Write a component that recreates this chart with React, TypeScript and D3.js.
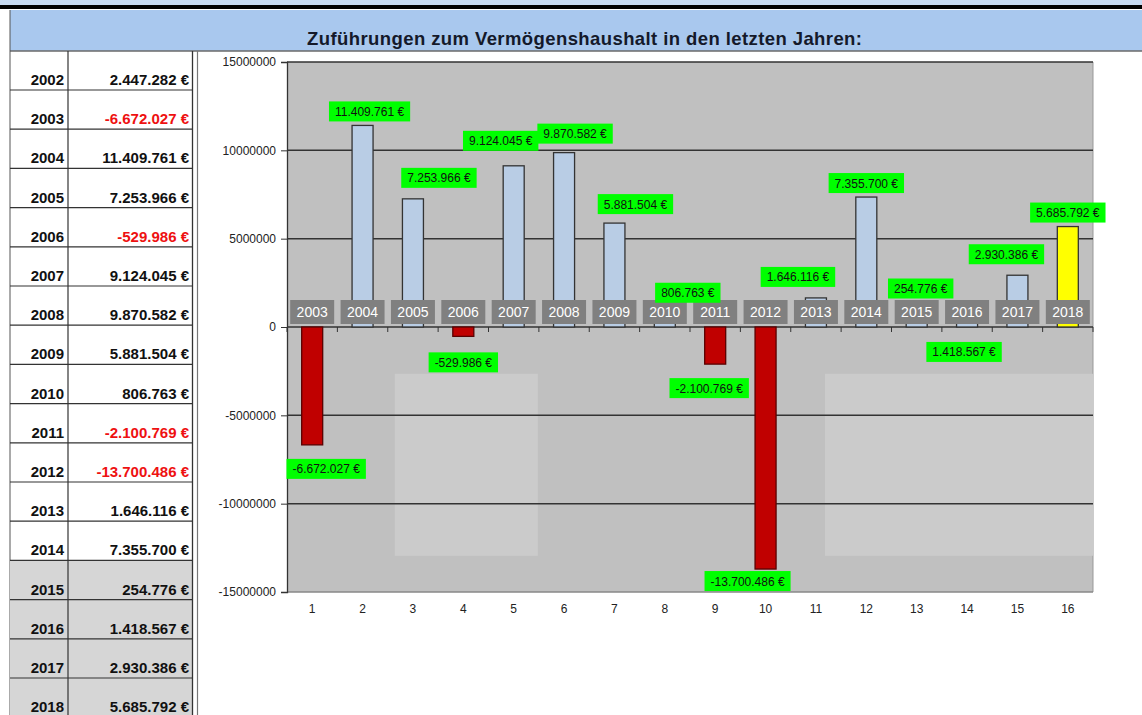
import React, { useEffect, useRef } from "react";
import * as d3 from "d3";

const FONT = "'Liberation Sans', Arial, sans-serif";

const title = "Zuführungen zum Vermögenshaushalt in den letzten Jahren:";

// table on the left (2002..2018)
const tableYears = ["2002", "2003", "2004", "2005", "2006", "2007", "2008", "2009", "2010", "2011", "2012", "2013", "2014", "2015", "2016", "2017", "2018"];
const tableAmounts = [2447282, -6672027, 11409761, 7253966, -529986, 9124045, 9870582, 5881504, 806763, -2100769, -13700486, 1646116, 7355700, 254776, 1418567, 2930386, 5685792];
const shadedYears = ["2015", "2016", "2017", "2018"];

// chart series (2003..2018)
const chartYears = tableYears.slice(1);
const chartAmounts = tableAmounts.slice(1);
const categoryTicks = ["1", "2", "3", "4", "5", "6", "7", "8", "9", "10", "11", "12", "13", "14", "15", "16"];
const yTicks = [15000000, 10000000, 5000000, 0, -5000000, -10000000, -15000000];
const highlightYear = "2018";

// hand-placed value labels: nudge from bar centre (x) and bar end (y), px
const labelDx = [14, 7, 26, 0, -13, 11, 21, 23, -6, -18, -18, 0, 4, -3, -11, 0];
const labelDy = [24, -14, -21, 26, -25, -19, -19, -20, 24, 12, -21, -14, -34, 50, -21, -14];

const de = d3.formatLocale({ decimal: ",", thousands: ".", grouping: [3], currency: ["", " €"], minus: "-" });
const euro = (v: number) => de.format(",")(v) + " €";

export default function App() {
  const svgRef = useRef<SVGSVGElement>(null);

  useEffect(() => {
    document.body.style.margin = "0";
    const W = 1142;
    const H = 715;

    const svg = d3
      .select(svgRef.current)
      .attr("width", W)
      .attr("height", H)
      .style("display", "block")
      .style("font-family", FONT);

    svg.selectAll("*").remove();

    svg.append("rect").attr("width", W).attr("height", H).attr("fill", "#fff");

    // header band
    svg.append("rect").attr("width", W).attr("height", 6).attr("fill", "#c6d9f1");
    svg.append("rect").attr("y", 5).attr("width", W).attr("height", 4).attr("fill", "#000");
    svg.append("rect").attr("x", 10).attr("y", 10).attr("width", W - 10).attr("height", 41).attr("fill", "#a9c8ee");
    svg.append("line").attr("x1", 10).attr("x2", W).attr("y1", 51).attr("y2", 51).attr("stroke", "#6a6a6a").attr("stroke-width", 1.5);
    svg.append("line").attr("x1", 10).attr("x2", 10).attr("y1", 10).attr("y2", H).attr("stroke", "#555");
    svg
      .append("text")
      .attr("x", 307)
      .attr("y", 45)
      .attr("textLength", 555)
      .attr("lengthAdjust", "spacing")
      .attr("font-size", 18.5)
      .attr("font-weight", "bold")
      .attr("fill", "#14192a")
      .text(title);

    // table
    const rowStep = 39.2;
    const rows = d3.scaleBand().domain(tableYears).range([90 - rowStep, 90 - rowStep + rowStep * tableYears.length]);
    const table = svg.append("g");
    table
      .selectAll("rect.shade")
      .data(tableYears.filter((y) => shadedYears.includes(y)))
      .join("rect")
      .attr("x", 10)
      .attr("y", (d) => rows(d)!)
      .attr("width", 183)
      .attr("height", rows.bandwidth())
      .attr("fill", "#d6d6d6");
    table
      .selectAll("line.row")
      .data(tableYears)
      .join("line")
      .attr("x1", 10)
      .attr("x2", 192)
      .attr("y1", (d) => rows(d)! + rows.bandwidth())
      .attr("y2", (d) => rows(d)! + rows.bandwidth())
      .attr("stroke", "#333")
      .attr("stroke-width", 1.2);
    table.append("line").attr("x1", 68).attr("x2", 68).attr("y1", 51).attr("y2", H).attr("stroke", "#333").attr("stroke-width", 1.2);
    table.append("line").attr("x1", 192.5).attr("x2", 192.5).attr("y1", 51).attr("y2", H).attr("stroke", "#333").attr("stroke-width", 1.3);
    table.append("line").attr("x1", 197.5).attr("x2", 197.5).attr("y1", 51).attr("y2", H).attr("stroke", "#777").attr("stroke-width", 1.2);
    table
      .selectAll("text.year")
      .data(tableYears)
      .join("text")
      .attr("x", 64)
      .attr("y", (d) => rows(d)! + rows.bandwidth() - 5)
      .attr("text-anchor", "end")
      .attr("font-size", 15)
      .attr("font-weight", "bold")
      .attr("fill", "#111")
      .text((d) => d);
    table
      .selectAll("text.amount")
      .data(tableAmounts)
      .join("text")
      .attr("x", 189)
      .attr("y", (_, i) => rows(tableYears[i])! + rows.bandwidth() - 5)
      .attr("text-anchor", "end")
      .attr("font-size", 15)
      .attr("font-weight", "bold")
      .attr("fill", (d) => (d < 0 ? "#ee1111" : "#111"))
      .text((d) => euro(d));

    // chart
    const left = 287;
    const right = 1093;
    const top = 62;
    const bottom = 592;
    const x = d3.scaleBand().domain(chartYears).range([left, right]);
    const xPos = d3.scaleLinear().domain([0.5, 16.5]).range([left, right]);
    const y = d3.scaleLinear().domain([-15000000, 15000000]).range([bottom, top]);
    const cx = (d: string) => x(d)! + x.bandwidth() / 2;
    const barW = 21;

    const chart = svg.append("g");
    chart.append("rect").attr("x", left).attr("y", top).attr("width", right - left).attr("height", bottom - top).attr("fill", "#c0c0c0");
    chart.append("line").attr("x1", right).attr("x2", right).attr("y1", top).attr("y2", bottom).attr("stroke", "#999");

    // faint lighter panels in the plot background
    [[2.64, 5.48], [11.18, 16.5]].forEach(([a, b]) => {
      chart
        .append("rect")
        .attr("x", xPos(a))
        .attr("y", y(-2650000))
        .attr("width", xPos(b) - xPos(a))
        .attr("height", y(-12950000) - y(-2650000))
        .attr("fill", "#cbcbcb");
    });

    // gridlines
    chart
      .selectAll("line.grid")
      .data(yTicks)
      .join("line")
      .attr("x1", left)
      .attr("x2", right)
      .attr("y1", (d) => y(d))
      .attr("y2", (d) => y(d))
      .attr("stroke", (d) => (d === -15000000 ? "#888" : "#333"))
      .attr("stroke-width", (d) => (d === 0 ? 1.3 : 1.5));

    // y axis
    const yAxis = chart
      .append("g")
      .attr("transform", `translate(${left},0)`)
      .call(d3.axisLeft(y).tickValues(yTicks).tickSize(6).tickPadding(5).tickFormat((d) => String(d)));
    yAxis.select(".domain").attr("stroke", "#333").attr("stroke-width", 1.3);
    yAxis.selectAll(".tick line").attr("stroke", "#333");
    yAxis.selectAll(".tick text").attr("font-family", FONT).attr("font-size", 12).attr("fill", "#222");

    // category ticks on the zero line
    chart
      .selectAll("line.ctick")
      .data(d3.range(chartYears.length + 1))
      .join("line")
      .attr("x1", (i) => xPos(i + 0.5))
      .attr("x2", (i) => xPos(i + 0.5))
      .attr("y1", y(0))
      .attr("y2", y(0) + 5)
      .attr("stroke", "#333");

    // bars
    chart
      .selectAll("rect.bar")
      .data(chartAmounts)
      .join("rect")
      .attr("x", (_, i) => cx(chartYears[i]) - barW / 2)
      .attr("y", (d) => y(Math.max(0, d)))
      .attr("width", barW)
      .attr("height", (d) => Math.abs(y(d) - y(0)))
      .attr("fill", (d, i) => (chartYears[i] === highlightYear ? "#ffff00" : d < 0 ? "#c00000" : "#b9cde5"))
      .attr("stroke", (d) => (d < 0 ? "#5a0000" : "#333"))
      .attr("stroke-width", 1.3);

    // category name boxes
    const cat = chart
      .selectAll("g.cat")
      .data(chartYears)
      .join("g")
      .attr("transform", (d) => `translate(${cx(d)},${y(0) - 15})`);
    cat.append("rect").attr("x", -22).attr("y", -12).attr("width", 44).attr("height", 24).attr("fill", "#808080");
    cat
      .append("text")
      .attr("y", 5)
      .attr("text-anchor", "middle")
      .attr("font-size", 14)
      .attr("fill", "#fff")
      .text((d) => d);

    // bottom category numbers
    chart
      .selectAll("text.num")
      .data(categoryTicks)
      .join("text")
      .attr("x", (_, i) => cx(chartYears[i]))
      .attr("y", bottom + 21)
      .attr("text-anchor", "middle")
      .attr("font-size", 12)
      .attr("fill", "#222")
      .text((d) => d);

    // green value labels
    const lab = chart
      .selectAll("g.val")
      .data(chartAmounts)
      .join("g")
      .attr("transform", (d, i) => `translate(${cx(chartYears[i]) + labelDx[i]},${y(d) + labelDy[i]})`);
    const labRect = lab.append("rect").attr("fill", "#00ff00");
    const labText = lab
      .append("text")
      .attr("y", 4.5)
      .attr("text-anchor", "middle")
      .attr("font-size", 12)
      .attr("fill", "#111")
      .text((d) => euro(d));
    labText.each(function (_, i) {
      const w = (this as SVGTextElement).getComputedTextLength() + 12;
      d3.select(labRect.nodes()[i]).attr("x", -w / 2).attr("y", -10).attr("width", w).attr("height", 20);
    });
  }, []);

  return <svg ref={svgRef}></svg>;
}
